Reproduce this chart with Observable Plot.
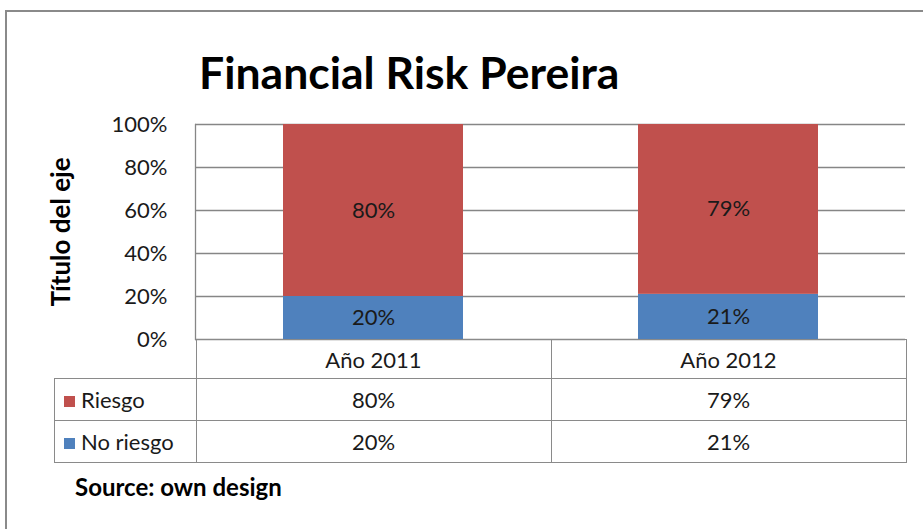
<!DOCTYPE html>
<html><head><meta charset="utf-8">
<script src="https://cdn.jsdelivr.net/npm/d3@7"></script>
<script src="https://cdn.jsdelivr.net/npm/@observablehq/plot@0.6"></script>
<style>
body{margin:0;background:#fff;}
#wrap{position:relative;width:923px;height:529px;overflow:hidden;font-family:Lato,sans-serif;color:#1a1a1a;background:#fff}
#frame{position:absolute;left:5px;top:10px;width:1000px;height:600px;border:2px solid #8a8a8a;}
#title{position:absolute;left:199px;top:50px;font-size:44.5px;font-weight:bold;color:#000;white-space:nowrap;line-height:1}
#chart{position:absolute;left:0;top:0}
#tbl{position:absolute;border-collapse:collapse;table-layout:fixed;font-size:22px;font-family:Lato,sans-serif;color:#1a1a1a}
#tbl td{border:1.5px solid #8a8a8a;text-align:center;padding:0;white-space:nowrap;overflow:hidden}
#tbl td.lab{text-align:left}
#tbl td.lab div{margin-left:9px}
#tbl td.blank{border:none}
.key{display:inline-block;width:11px;height:11px;margin-right:6px;vertical-align:1px}
#source{position:absolute;left:75px;top:472px;font-size:24px;font-weight:bold;color:#000}
g[aria-label="y-axis label"] text{font-weight:bold;font-size:26px;fill:#000}
</style></head>
<body>
<div id="wrap">
  <div id="frame"></div>
  <div id="chart"></div>
  <div id="title">Financial Risk Pereira</div>
  <div id="source">Source: own design</div>
</div>
<script>
const years = ["Año 2011", "Año 2012"];
const seriesNames = ["No riesgo", "Riesgo"];
const noRiesgo = [0.20, 0.21];
const riesgo = [0.80, 0.79];
const seriesColors = ["#4F81BD", "#C0504D"];
const yTicks = [0, 0.2, 0.4, 0.6, 0.8, 1];
const pct = v => Math.round(v * 100) + "%";

const data = [];
years.forEach((yr, i) => {
  data.push({year: yr, series: seriesNames[0], value: noRiesgo[i]});
  data.push({year: yr, series: seriesNames[1], value: riesgo[i]});
});

const plot = Plot.plot({
  width: 923, height: 529,
  marginLeft: 195, marginRight: 18, marginTop: 124, marginBottom: 190,
  x: {domain: years, paddingInner: 0.493, paddingOuter: 0.2465, axis: null},
  y: {domain: [0, 1]},
  color: {domain: seriesNames, range: seriesColors},
  style: {fontFamily: "Lato, sans-serif", fontSize: "22px", color: "#1a1a1a", background: "transparent"},
  marks: [
    Plot.gridY(yTicks, {stroke: "#868686", strokeOpacity: 1, strokeWidth: 1.3}),
    Plot.frame({anchor: "left", stroke: "#868686", strokeWidth: 1.3}),
    Plot.axisY(yTicks, {tickSize: 0, tickPadding: 28, tickFormat: pct, label: "Título del eje",
      labelAnchor: "center", labelOffset: 144, labelArrow: "none"}),
    Plot.barY(data, Plot.stackY({x: "year", y: "value", fill: "series"})),
    Plot.text(data, Plot.stackY({x: "year", y: "value", text: d => pct(d.value), fill: "#1a1a1a", fontSize: 22}))
  ]
});
document.getElementById("chart").appendChild(plot);

// data table aligned on the x band scale
const xs = plot.scale("x");
const ys = plot.scale("y");
const colW = xs.step;
const firstLeft = xs.apply(years[0]) - (xs.step - xs.bandwidth) / 2;
const tableLeft = 54;
const firstW = firstLeft - tableLeft;
const top0 = ys.apply(0);
const tbl = document.createElement("table");
tbl.id = "tbl";
tbl.style.left = tableLeft + "px";
tbl.style.top = top0 + "px";
tbl.style.width = (firstW + colW * years.length) + "px";
const cg = document.createElement("colgroup");
[firstW, ...years.map(() => colW)].forEach(w => {
  const c = document.createElement("col");
  c.style.width = w + "px";
  cg.appendChild(c);
});
tbl.appendChild(cg);
const rows = [
  {name: null, vals: years, h: 39},
  {name: seriesNames[1], color: seriesColors[1], vals: riesgo.map(pct), h: 42},
  {name: seriesNames[0], color: seriesColors[0], vals: noRiesgo.map(pct), h: 42}
];
rows.forEach(r => {
  const tr = document.createElement("tr");
  tr.style.height = r.h + "px";
  const c0 = document.createElement("td");
  if (r.name) {
    c0.className = "lab";
    c0.innerHTML = `<div><span class="key" style="background:${r.color}"></span>${r.name}</div>`;
  } else c0.className = "blank";
  tr.appendChild(c0);
  r.vals.forEach(v => {
    const td = document.createElement("td");
    td.textContent = v;
    tr.appendChild(td);
  });
  tbl.appendChild(tr);
});
document.getElementById("wrap").appendChild(tbl);
</script>
</body></html>
